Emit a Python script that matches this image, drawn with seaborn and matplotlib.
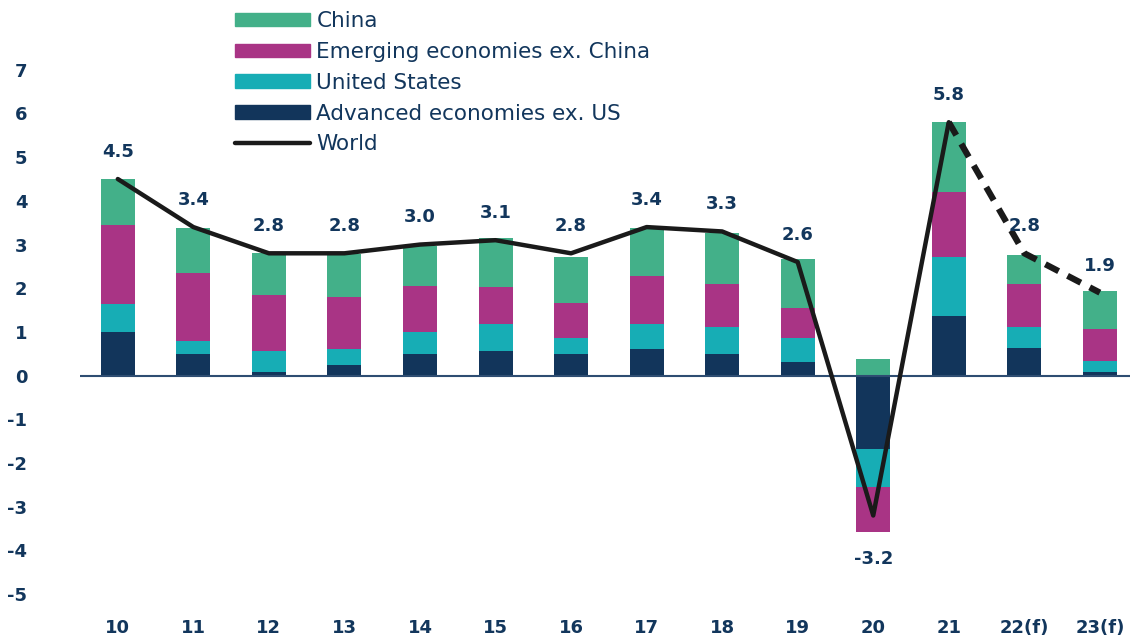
import numpy as np
import pandas as pd
import matplotlib
matplotlib.use("Agg")
import matplotlib.pyplot as plt
import seaborn as sns
from matplotlib.patches import Patch
from matplotlib.lines import Line2D

# Contributions to world GDP growth (percentage points)
years = ["10", "11", "12", "13", "14", "15", "16", "17", "18", "19", "20", "21", "22(f)", "23(f)"]
advanced_ex_us = [1.00, 0.50, 0.09, 0.25, 0.50, 0.57, 0.50, 0.62, 0.50, 0.32, -1.67, 1.37, 0.63, 0.08]
united_states = [0.65, 0.30, 0.48, 0.36, 0.49, 0.61, 0.37, 0.56, 0.62, 0.55, -0.87, 1.35, 0.49, 0.25]
emerging_ex_china = [1.80, 1.55, 1.28, 1.19, 1.06, 0.85, 0.80, 1.10, 0.98, 0.68, -1.03, 1.49, 0.98, 0.74]
china = [1.05, 1.03, 0.95, 0.98, 0.91, 1.11, 1.05, 1.10, 1.16, 1.11, 0.38, 1.60, 0.67, 0.86]
world = [4.5, 3.4, 2.8, 2.8, 3.0, 3.1, 2.8, 3.4, 3.3, 2.6, -3.2, 5.8, 2.8, 1.9]
world_labels = ["4.5", "3.4", "2.8", "2.8", "3.0", "3.1", "2.8", "3.4", "3.3", "2.6", "-3.2", "5.8", "2.8", "1.9"]

NAVY_TEXT = "#12365c"
C_CHINA = "#43b089"
C_EM = "#a93485"
C_US = "#17adb5"
C_ADV = "#12355b"
LINE = "#1a1a1a"

sns.set_theme(style="white")
plt.rcParams["font.family"] = ["Liberation Sans Narrow", "DejaVu Sans"]
plt.rcParams["axes.unicode_minus"] = False

fig = plt.figure(figsize=(11.32, 6.39), dpi=100)
ax = fig.add_axes([0.0707, 0.036, 0.9276, 0.889])

# Stack positives upward and negatives downward, layer order from the axis out
layers = [("Advanced economies ex. US", advanced_ex_us, C_ADV),
          ("United States", united_states, C_US),
          ("Emerging economies ex. China", emerging_ex_china, C_EM),
          ("China", china, C_CHINA)]
pos_cum = np.zeros(len(years))
neg_cum = np.zeros(len(years))
tops = []
for name, vals, col in layers:
    v = np.array(vals)
    pos_cum = pos_cum + np.where(v > 0, v, 0)
    neg_cum = neg_cum + np.where(v < 0, v, 0)
    tops.append((name, np.where(v >= 0, pos_cum, neg_cum), col))

# draw outermost layers first so inner layers sit on top of them
for name, top, col in reversed(tops):
    df = pd.DataFrame({"year": years, "top": top})
    sns.barplot(data=df, x="year", y="top", order=years, color=col,
                width=0.45, saturation=1, ax=ax, errorbar=None, linewidth=0)

# World growth line: actuals solid, forecasts dashed
xs = np.arange(len(years))
df_w = pd.DataFrame({"x": xs, "world": world})
sns.lineplot(data=df_w.iloc[:12], x="x", y="world", color=LINE, lw=3.2, ax=ax)
sns.lineplot(data=df_w.iloc[11:], x="x", y="world", color=LINE, lw=4.5, ax=ax,
             linestyle=(0, (2.4, 1.6)))

# value labels above the line (below the bar for the contraction)
for i, (w, lab) in enumerate(zip(world, world_labels)):
    y = -4.2 if w < 0 else w + 0.62
    ax.text(i, y, lab, ha="center", va="center", fontsize=13,
            fontweight="bold", color=NAVY_TEXT)

ax.axhline(0, color="#2e4d72", lw=1.5, zorder=1)
ax.set_ylim(-5.5, 7.5)
ax.set_xlim(-0.5, 13.4)
ax.set_yticks(range(-5, 8))
ax.set_xticks(xs)
ax.set_xticklabels(years)
ax.set_xlabel("")
ax.set_ylabel("")
for s in ax.spines.values():
    s.set_visible(False)
ax.tick_params(axis="y", length=0, pad=38, labelsize=13, labelcolor=NAVY_TEXT)
ax.tick_params(axis="x", length=0, pad=2, labelsize=13, labelcolor=NAVY_TEXT)
for t in ax.get_xticklabels() + ax.get_yticklabels():
    t.set_fontweight("bold")

handles = [Patch(color=C_CHINA), Patch(color=C_EM), Patch(color=C_US), Patch(color=C_ADV),
           Line2D([0], [0], color=LINE, lw=3.2)]
labels = ["China", "Emerging economies ex. China", "United States",
          "Advanced economies ex. US", "World"]
leg = fig.legend(handles, labels, loc="upper left", bbox_to_anchor=(0.194, 1.006),
                 frameon=False, fontsize=15.5, handlelength=3.5, handleheight=0.6,
                 labelspacing=0.5, handletextpad=0.3, borderpad=0.2)
for t in leg.get_texts():
    t.set_color(NAVY_TEXT)

fig.savefig("out.png", dpi=100)
